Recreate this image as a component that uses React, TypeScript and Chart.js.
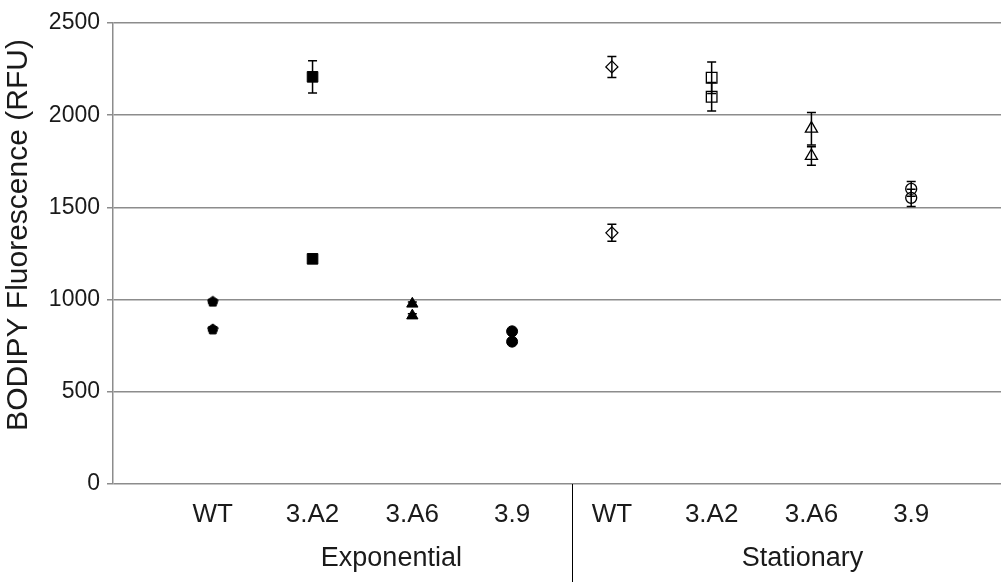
import React, { useEffect, useRef } from 'react';
import { Chart, registerables } from 'chart.js';

Chart.register(...registerables);

// ---- data ----
const categories = ['WT', '3.A2', '3.A6', '3.9', 'WT', '3.A2', '3.A6', '3.9'];
const groups = ['Exponential', 'Stationary'];
const yTickValues = [0, 500, 1000, 1500, 2000, 2500];
const yTitle = 'BODIPY Fluorescence (RFU)';

const expWT = [991, 841];
const expWTErr = [10, 10];
const expA2 = [2208, 1221];
const expA2Err = [87, 18];
const expA6 = [977, 913];
const expA6Err = [10, 10];
const exp39 = [828, 772];
const exp39Err = [10, 10];

const statWT = [2262, 1362];
const statWTErr = [57, 46];
const statA2 = [2203, 2100];
const statA2Err = [85, 77];
const statA6 = [1927, 1779];
const statA6Err = [88, 50];
const stat39 = [1600, 1552];
const stat39Err = [40, 47];

// layout constants (in x-scale units)
const groupCenters = [2.79, 6.91];
const separatorAt = 4.6;

function pentagon(filled: boolean): HTMLCanvasElement {
  const c = document.createElement('canvas');
  c.width = 12;
  c.height = 12;
  const g = c.getContext('2d')!;
  g.beginPath();
  for (let i = 0; i < 5; i++) {
    const a = -Math.PI / 2 + (i * 2 * Math.PI) / 5;
    const px = 6 + Math.cos(a) * 5.5;
    const py = 6.5 + Math.sin(a) * 5.5;
    if (i === 0) g.moveTo(px, py);
    else g.lineTo(px, py);
  }
  g.closePath();
  if (filled) {
    g.fillStyle = '#000';
    g.fill();
  }
  g.strokeStyle = '#000';
  g.lineWidth = 1;
  g.stroke();
  return c;
}

export default function App() {
  const ref = useRef<HTMLCanvasElement | null>(null);

  useEffect(() => {
    if (!ref.current) return;
    const series = [
      { vals: expWT, errs: expWTErr, style: pentagon(true) as any, r: 6, fill: true },
      { vals: expA2, errs: expA2Err, style: 'rect', r: 7.5, fill: true },
      { vals: expA6, errs: expA6Err, style: 'triangle', r: 6.5, fill: true },
      { vals: exp39, errs: exp39Err, style: 'circle', r: 5.5, fill: true },
      { vals: statWT, errs: statWTErr, style: 'rectRot', r: 6, fill: false },
      { vals: statA2, errs: statA2Err, style: 'rect', r: 7.5, fill: false },
      { vals: statA6, errs: statA6Err, style: 'triangle', r: 7, fill: false },
      { vals: stat39, errs: stat39Err, style: 'circle', r: 5.5, fill: false },
    ];

    const datasets = series.map((s, i) => ({
      label: categories[i],
      data: s.vals.map((v) => ({ x: i + 1, y: v })),
      pointStyle: s.style,
      pointRadius: s.r,
      pointHoverRadius: s.r,
      pointBackgroundColor: s.fill ? '#000' : 'rgba(255,255,255,0)',
      pointBorderColor: '#000',
      pointBorderWidth: s.fill ? 1 : 1.3,
      showLine: false,
    }));

    const errorBars = {
      id: 'errorBars',
      beforeDatasetsDraw(chart: any) {
        const ctx = chart.ctx;
        const xs = chart.scales.x;
        const ys = chart.scales.y;
        ctx.save();
        ctx.strokeStyle = '#000';
        ctx.lineWidth = 1.5;
        series.forEach((s, i) => {
          const px = xs.getPixelForValue(i + 1);
          s.vals.forEach((v, j) => {
            const e = s.errs[j];
            const top = ys.getPixelForValue(v + e);
            const bot = ys.getPixelForValue(v - e);
            ctx.beginPath();
            ctx.moveTo(px, top);
            ctx.lineTo(px, bot);
            ctx.moveTo(px - 4.5, top);
            ctx.lineTo(px + 4.5, top);
            ctx.moveTo(px - 4.5, bot);
            ctx.lineTo(px + 4.5, bot);
            ctx.stroke();
          });
        });
        ctx.restore();
      },
    };

    const labels = {
      id: 'labels',
      afterDraw(chart: any) {
        const ctx = chart.ctx;
        const xs = chart.scales.x;
        const area = chart.chartArea;
        ctx.save();
        ctx.fillStyle = '#1a1a1a';
        ctx.textAlign = 'center';
        ctx.textBaseline = 'alphabetic';
        ctx.font = '26px "Liberation Sans", Arial, sans-serif';
        categories.forEach((c, i) => {
          ctx.fillText(c, xs.getPixelForValue(i + 1), 522);
        });
        ctx.font = '27px "Liberation Sans", Arial, sans-serif';
        groups.forEach((g, i) => {
          ctx.fillText(g, xs.getPixelForValue(groupCenters[i]), 566);
        });
        // separator
        const sx = Math.round(xs.getPixelForValue(separatorAt)) + 0.5;
        ctx.strokeStyle = '#000';
        ctx.lineWidth = 1;
        ctx.beginPath();
        ctx.moveTo(sx, area.bottom);
        ctx.lineTo(sx, 582);
        ctx.stroke();
        // y title
        ctx.translate(19, 235);
        ctx.rotate(-Math.PI / 2);
        ctx.textBaseline = 'middle';
        ctx.font = '30px "Liberation Sans", Arial, sans-serif';
        ctx.fillText(yTitle, 0, 0);
        ctx.restore();
      },
    };

    const chart = new Chart(ref.current, {
      type: 'scatter',
      data: { datasets: datasets as any },
      options: {
        animation: false,
        responsive: false,
        layout: { autoPadding: false, padding: { top: 23, bottom: 98, left: 0, right: 0 } },
        plugins: { legend: { display: false }, tooltip: { enabled: false } },
        scales: {
          x: { type: 'linear', min: 0, max: 8.9, display: false },
          y: {
            min: 0,
            max: 2500,
            afterBuildTicks: (scale: any) => {
              scale.ticks = yTickValues.map((v) => ({ value: v }));
            },
            afterFit: (scale: any) => {
              scale.width = 113;
            },
            grid: { color: '#8c8c8c', lineWidth: 1.5, tickLength: 6, drawTicks: true, tickColor: '#8c8c8c' },
            border: { color: '#8c8c8c', width: 1.5 },
            ticks: {
              padding: 7,
              color: '#1a1a1a',
              font: { family: '"Liberation Sans", Arial, sans-serif', size: 23 },
              callback: (v: any) => String(v),
            },
          },
        },
      },
      plugins: [errorBars, labels],
    });
    return () => chart.destroy();
  }, []);

  return (
    <canvas
      ref={ref}
      width={1001}
      height={582}
      style={{ position: 'absolute', left: 0, top: 0, width: 1001, height: 582, display: 'block' }}
    />
  );
}
